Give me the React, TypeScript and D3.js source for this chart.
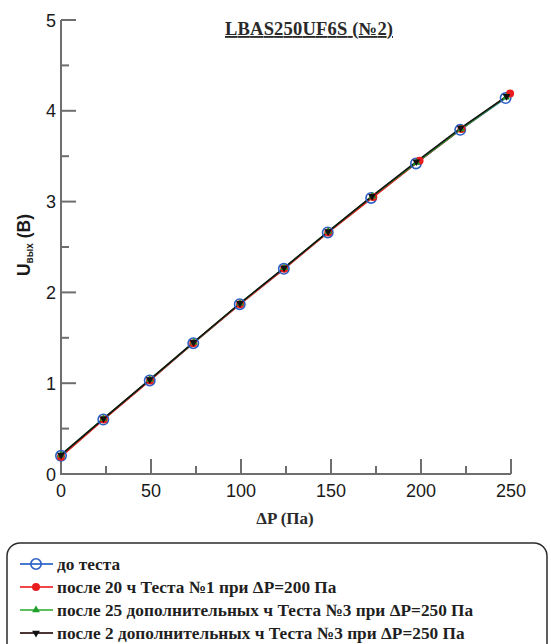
import React from "react";
import * as d3 from "d3";

// ΔP (Pa) readings and output voltage U (V) for each calibration run
const xBefore = [0, 23.5, 49.3, 73.5, 99.3, 123.8, 148.2, 172.3, 197.2, 221.8, 247];
const yBefore = [0.2, 0.6, 1.03, 1.44, 1.87, 2.26, 2.66, 3.04, 3.42, 3.79, 4.14];
const xAfter20h = [0, 23.8, 49.5, 73.5, 99.5, 124, 148.5, 173.5, 199.2, 222.5, 249.5];
const yAfter20h = [0.19, 0.6, 1.03, 1.44, 1.87, 2.26, 2.66, 3.05, 3.45, 3.8, 4.19];
const xAfter25h = [0, 23.6, 49.4, 73.8, 99.5, 124, 148.5, 173, 197.5, 222.3, 247.3];
const yAfter25h = [0.21, 0.61, 1.04, 1.45, 1.88, 2.27, 2.67, 3.06, 3.43, 3.8, 4.15];
const xAfter2h = [0, 23.6, 49.3, 73.6, 99.4, 123.9, 148.4, 172.8, 197.4, 222, 247.5];
const yAfter2h = [0.21, 0.61, 1.04, 1.45, 1.88, 2.27, 2.67, 3.06, 3.44, 3.81, 4.16];

const seriesNames = [
  "до теста",
  "после 20 ч Теста №1 при ΔP=200 Па",
  "после 25 дополнительных ч Теста №3 при ΔP=250 Па",
  "после 2 дополнительных ч Теста №3 при ΔP=250 Па",
];

const xTicksMajor = [0, 50, 100, 150, 200, 250];
const xTicksMinor = [25, 75, 125, 175, 225];
const yTicksMajor = [0, 1, 2, 3, 4, 5];
const yTicksMinor = [0.5, 1.5, 2.5, 3.5, 4.5];

const titleText = "LBAS250UF6S (№2)";
const xLabelText = "ΔP (Па)";

type Marker = "openCircle" | "dot" | "triUp" | "triDown";

const series = [
  { name: seriesNames[0], xs: xBefore, ys: yBefore, color: "#2c5fc4", legendLine: "#4a7ad0", marker: "openCircle" as Marker },
  { name: seriesNames[1], xs: xAfter20h, ys: yAfter20h, color: "#e81c1c", legendLine: "#f04848", marker: "dot" as Marker },
  { name: seriesNames[2], xs: xAfter25h, ys: yAfter25h, color: "#1e9e2a", legendLine: "#5cc060", marker: "triUp" as Marker },
  { name: seriesNames[3], xs: xAfter2h, ys: yAfter2h, color: "#111111", legendLine: "#4a3434", marker: "triDown" as Marker },
];

const W = 551;
const H = 644;
const x0 = 61;
const x1 = 511;
const yTop = 20;
const yBottom = 474;

const axisColor = "#6e6e6e";
const sans = "'Liberation Sans', Arial, sans-serif";
const serif = "'Liberation Serif', 'Times New Roman', serif";

function MarkerShape({ kind, cx, cy, color }: { kind: Marker; cx: number; cy: number; color: string }) {
  if (kind === "openCircle")
    return <circle cx={cx} cy={cy} r={5.2} fill="none" stroke={color} strokeWidth={1.6} />;
  if (kind === "dot") return <circle cx={cx} cy={cy} r={4} fill={color} />;
  const sym = d3.symbol().type(d3.symbolTriangle).size(26)();
  const rot = kind === "triDown" ? 180 : 0;
  return <path d={sym || ""} transform={`translate(${cx},${cy}) rotate(${rot})`} fill={color} />;
}

export default function App() {
  const x = d3.scaleLinear().domain([0, 250]).range([x0, x1]);
  const y = d3.scaleLinear().domain([0, 5]).range([yBottom, yTop]);

  const line = d3
    .line<[number, number]>()
    .x((d) => x(d[0]))
    .y((d) => y(d[1]));

  const legendTop = 564;
  const legendStep = 23;

  return (
    <svg
      width={W}
      height={H}
      style={{ position: "absolute", left: 0, top: 0, background: "#fff" }}
    >
      {/* title */}
      <text
        x={225}
        y={35}
        fontFamily={serif}
        fontWeight="bold"
        fontSize={18.5}
        textLength={168}
        lengthAdjust="spacing"
        fill="#2a2a2a"
        textDecoration="underline"
      >
        {titleText}
      </text>

      {/* axes */}
      <g stroke={axisColor} strokeWidth={2} fill="none">
        <line x1={x0} y1={yTop} x2={x0} y2={yBottom + 1} />
        <line x1={x0 - 1} y1={yBottom} x2={x1} y2={yBottom} />
        {yTicksMajor.map((t) => (
          <line key={"ym" + t} x1={x0} x2={x0 + 15} y1={y(t)} y2={y(t)} />
        ))}
        {yTicksMinor.map((t) => (
          <line key={"yn" + t} x1={x0} x2={x0 + 8} y1={y(t)} y2={y(t)} />
        ))}
        {xTicksMajor.map((t) => (
          <line key={"xm" + t} x1={x(t)} x2={x(t)} y1={yBottom} y2={yBottom - 15} />
        ))}
        {xTicksMinor.map((t) => (
          <line key={"xn" + t} x1={x(t)} x2={x(t)} y1={yBottom} y2={yBottom - 8} />
        ))}
      </g>

      {/* tick labels */}
      <g fontFamily={sans} fontSize={18} fill="#1a1a1a">
        {yTicksMajor.map((t) => (
          <text key={"yl" + t} x={56} y={y(t) + 6.5} textAnchor="end">
            {t}
          </text>
        ))}
        {xTicksMajor.map((t) => (
          <text key={"xl" + t} x={x(t)} y={497} textAnchor="middle">
            {t}
          </text>
        ))}
      </g>

      {/* axis titles */}
      <text
        x={285}
        y={524}
        textAnchor="middle"
        fontFamily={serif}
        fontWeight="bold"
        fontSize={17}
        fill="#2a2a2a"
      >
        {xLabelText}
      </text>
      <text
        transform="translate(30,245) rotate(-90)"
        textAnchor="middle"
        fontFamily={sans}
        fontWeight="bold"
        fontSize={17.5}
        fill="#1a1a1a"
      >
        U<tspan fontSize={10} dy={3}>вых</tspan>
        <tspan dy={-3}> (В)</tspan>
      </text>

      {/* series lines */}
      {series.map((s) => (
        <path
          key={"l" + s.name}
          d={line(s.xs.map((v, i) => [v, s.ys[i]] as [number, number])) || ""}
          fill="none"
          stroke={s.color}
          strokeWidth={1.5}
        />
      ))}
      {/* series markers */}
      {series.map((s) => (
        <g key={"m" + s.name}>
          {s.xs.map((v, i) => (
            <MarkerShape key={i} kind={s.marker} cx={x(v)} cy={y(s.ys[i])} color={s.color} />
          ))}
        </g>
      ))}

      {/* legend */}
      <rect
        x={7}
        y={543}
        width={540}
        height={120}
        rx={13}
        ry={13}
        fill="#fff"
        stroke="#2b2b2b"
        strokeWidth={1.5}
      />
      {series.map((s, i) => {
        const cy = legendTop + i * legendStep;
        return (
          <g key={"lg" + s.name}>
            <line x1={20} x2={53} y1={cy} y2={cy} stroke={s.legendLine} strokeWidth={1.8} />
            <MarkerShape kind={s.marker} cx={36} cy={cy} color={s.color} />
            <text
              x={57}
              y={cy + 6}
              fontFamily={serif}
              fontWeight="bold"
              fontSize={17.3}
              fill="#1f1f1f"
            >
              {s.name}
            </text>
          </g>
        );
      })}
    </svg>
  );
}
